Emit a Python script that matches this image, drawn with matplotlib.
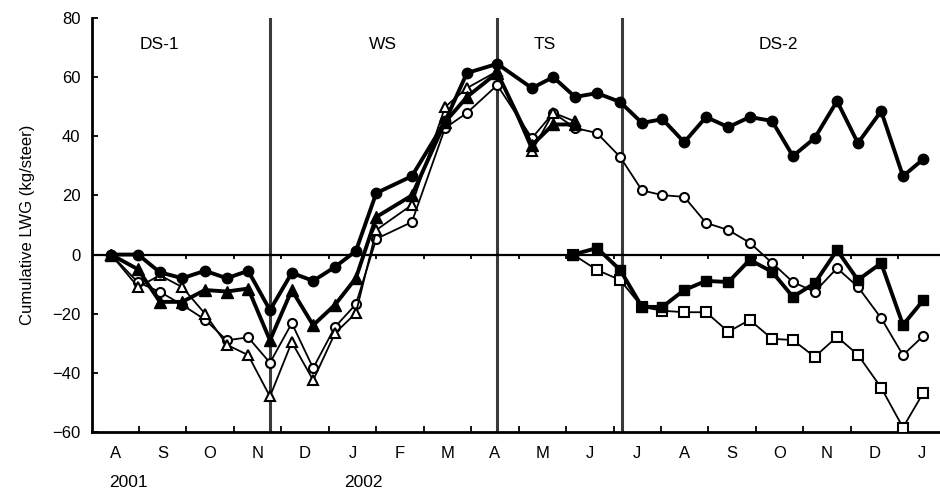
import numpy as np
import matplotlib
matplotlib.use("Agg")
import matplotlib.pyplot as plt
from matplotlib.transforms import blended_transform_factory

plt.rcParams['font.family'] = ['Liberation Sans', 'DejaVu Sans']

# x = months since 1 Aug 2001
x_main = [0.41, 0.98, 1.44, 1.91, 2.39, 2.85, 3.30, 3.76, 4.22, 4.67, 5.13,
          5.57, 6.00, 6.75, 7.45, 7.91, 8.55, 9.28, 9.73, 10.19, 10.65, 11.14,
          11.60, 12.03, 12.49, 12.95, 13.42, 13.87, 14.34, 14.78, 15.24, 15.71,
          16.15, 16.64, 17.10, 17.53]
x_sq = [10.15, 10.65, 11.14, 11.60, 12.03, 12.49, 12.95, 13.42, 13.87, 14.34,
        14.78, 15.24, 15.71, 16.15, 16.64, 17.10, 17.53]

filled_circle = [0, 0, -6, -8, -5.5, -8, -5.5, -18.8, -6.2, -8.9, -4.2, 1.2, 20.8,
                 26.5, 45, 61.4, 64.5, 56.3, 60, 53.3, 54.6, 51.6, 44.5, 45.8, 38,
                 46.5, 43.1, 46.5, 45.2, 33.3, 39.4, 51.9, 37.7, 48.5, 26.5, 32.3]
open_circle = [0, -9.4, -12.6, -17, -22, -29, -28, -36.6, -23.2, -38.4, -24.5,
               -16.8, 5.3, 11, 42.8, 47.9, 57.3, 39.4, 47.9, 42.8, 41.1, 33,
               21.7, 20.1, 19.5, 10.7, 8.3, 4, -2.8, -9.3, -12.6, -4.6, -10.9,
               -21.5, -34, -27.5]
filled_tri = [0, -5, -16, -16, -12, -12.5, -11.5, -29, -12, -23.9, -17, -8, 12.7,
              20, 44.8, 53.3, 61.5, 37, 44, 44]
open_tri = [0, -11, -7, -11, -20, -30.5, -34, -48, -29.6, -42.5, -26.6, -19.8, 8.3,
            16.8, 49.9, 56.3, 62, 35, 48, 45]
filled_sq = [0, 2.2, -5.2, -17.7, -17.7, -12, -8.9, -9.3, -1.8, -5.8, -14.3, -9.7,
             1.5, -8.6, -2.9, -23.8, -15.4]
open_sq = [0, -5.2, -8.6, -17.7, -19, -19.5, -19.5, -26.1, -22.1, -28.5, -28.9,
           -34.6, -27.8, -33.9, -45, -58.5, -46.7]

month_labels = ['A', 'S', 'O', 'N', 'D', 'J', 'F', 'M', 'A', 'M', 'J', 'J',
                'A', 'S', 'O', 'N', 'D', 'J']
season_bounds = [3.75, 8.55, 11.17]
seasons = ['DS-1', 'WS', 'TS', 'DS-2']
season_x = [1.44, 6.15, 9.56, 14.47]
years = ['2001', '2002']
year_x = [0.77, 5.72]

fig = plt.figure(figsize=(9.4, 4.92), dpi=100)
ax = fig.add_axes([0.0974, 0.122, 0.9026, 0.8414])

thin = dict(color='black', lw=1.3, mfc='white', mec='black', mew=1.5)
thick = dict(color='black', lw=2.8, mfc='black', mec='black')
n_tri = len(filled_tri)
ax.plot(x_sq, open_sq, marker='s', ms=6.5, **thin, zorder=3)
ax.plot(x_main, open_circle, marker='o', ms=6.5, **thin, zorder=3)
ax.plot(x_main[:n_tri], open_tri, marker='^', ms=7.5, **thin, zorder=3)
ax.plot(x_sq, filled_sq, marker='s', ms=7, **thick, zorder=4)
ax.plot(x_main[:n_tri], filled_tri, marker='^', ms=8, **thick, zorder=4)
ax.plot(x_main, filled_circle, marker='o', ms=7.5, **thick, zorder=5)

for b in season_bounds:
    ax.axvline(b, color='#3a3a3a', lw=2.2, zorder=2)
ax.axhline(0, color='black', lw=1.6, zorder=2)
ticks = np.arange(1, 18)
ax.vlines(ticks, -1.5, 0, color='black', lw=1.3, zorder=2)

for s, sx in zip(seasons, season_x):
    ax.text(sx, 71, s, ha='center', va='center', fontsize=12.5)

ax.set_xlim(0, 17.88)
ax.set_ylim(-60, 80)
ax.set_yticks(np.arange(-60, 81, 20))
ax.set_xticks(ticks)
ax.set_xticklabels([])
ax.set_xticks(np.arange(18) + 0.5, minor=True)
ax.set_xticklabels(month_labels, minor=True, fontsize=12)
ax.tick_params(axis='x', which='minor', length=0, pad=10)
ax.tick_params(axis='both', which='major', direction='in', length=4, width=1.3,
               labelsize=12)
ax.tick_params(axis='y', pad=8)

for sp in ['top', 'right']:
    ax.spines[sp].set_visible(False)
for sp in ['left', 'bottom']:
    ax.spines[sp].set_linewidth(2)

trans = blended_transform_factory(ax.transData, ax.transAxes)
for y, yx in zip(years, year_x):
    ax.text(yx, -0.122, y, transform=trans, ha='center', va='center', fontsize=12.5)

ax.set_ylabel('Cumulative LWG (kg/steer)', fontsize=12, labelpad=12)

fig.savefig('out.png', dpi=100)
